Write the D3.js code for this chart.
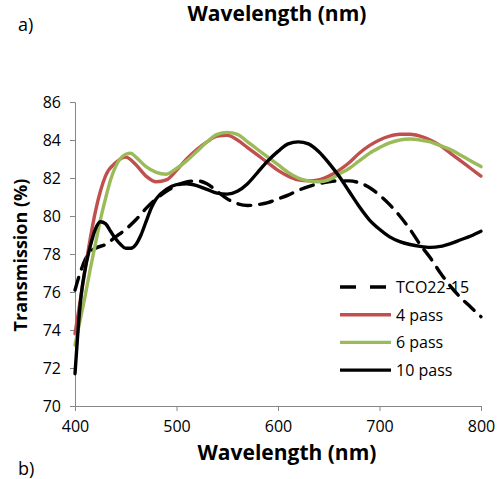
<!DOCTYPE html>
<html><head><meta charset="utf-8">
<script src="https://cdn.jsdelivr.net/npm/d3@7"></script>
<style>body{margin:0;background:#fff}svg{display:block}text{font-family:"Open Sans",sans-serif}</style>
</head><body><svg id="c" width="497" height="479"></svg>
<script>
const xTicks=[400,500,600,700,800];
const yTicks=[70,72,74,76,78,80,82,84,86];
const seriesNames=["TCO22-15","4 pass","6 pass","10 pass"];
const wlTCO=[400,405,410,415,420,430,440,450,460,470,480,490,500,510,520,530,540,550,560,570,580,590,600,610,620,630,640,650,660,670,680,690,700,710,720,730,740,750,760,770,780,790,800];
const tTCO=[76.1,77.0,77.7,78.1,78.3,78.5,78.9,79.3,79.8,80.4,80.9,81.3,81.6,81.8,81.85,81.7,81.3,80.9,80.65,80.55,80.6,80.7,80.9,81.1,81.35,81.55,81.7,81.8,81.85,81.85,81.75,81.5,81.1,80.6,80.0,79.3,78.5,77.8,77.0,76.3,75.7,75.2,74.7];
const wl4=[400,405,410,415,420,425,430,440,450,460,470,480,490,500,510,520,530,540,550,560,570,580,590,600,610,620,630,640,650,660,670,680,690,700,710,720,730,740,750,760,770,780,790,800];
const t4=[73.8,75.5,77.2,78.8,80.2,81.3,82.1,82.8,83.1,82.7,82.1,81.8,81.9,82.4,83.0,83.5,83.9,84.2,84.25,84.0,83.6,83.2,82.8,82.4,82.1,81.9,81.85,81.9,82.1,82.4,82.8,83.3,83.7,84.0,84.2,84.3,84.3,84.2,84.0,83.7,83.3,82.9,82.5,82.1];
const wl6=[400,405,410,415,420,425,430,435,440,450,455,460,470,480,490,500,510,520,530,540,550,560,570,580,590,600,610,620,630,640,650,660,670,680,690,700,710,720,730,740,750,760,770,780,790,800];
const t6=[73.2,74.5,75.8,77.2,78.5,79.8,80.9,81.9,82.6,83.25,83.3,83.1,82.6,82.3,82.2,82.5,82.9,83.4,83.9,84.3,84.4,84.3,83.9,83.5,83.1,82.7,82.3,82.0,81.85,81.8,81.9,82.2,82.5,82.9,83.3,83.6,83.85,84.0,84.05,84.0,83.9,83.7,83.5,83.2,82.9,82.6];
const wl10=[400,403,406,410,415,420,425,430,435,440,445,450,455,460,465,470,475,480,490,500,510,520,530,540,550,560,570,580,590,600,610,620,630,640,650,660,670,680,690,700,710,720,730,740,750,760,770,780,790,800];
const t10=[71.7,74.0,75.8,77.2,78.4,79.3,79.7,79.6,79.2,78.8,78.5,78.3,78.3,78.5,79.0,79.7,80.4,80.9,81.4,81.65,81.7,81.6,81.4,81.2,81.15,81.3,81.7,82.3,82.9,83.4,83.8,83.9,83.8,83.4,82.8,82.1,81.3,80.5,79.8,79.3,78.9,78.65,78.5,78.4,78.35,78.4,78.55,78.75,78.95,79.2];

const svg=d3.select("#c");
const m={l:75,r:16,t:102,b:73};
const W=497,H=479;
const x=d3.scaleLinear().domain([400,800]).range([m.l,W-m.r]);
const y=d3.scaleLinear().domain([70,86]).range([H-m.b,m.t]);
const axisCol="#868686";

const gx=svg.append("g").attr("transform",`translate(0,${H-m.b})`)
 .call(d3.axisBottom(x).tickValues(xTicks).tickSize(5).tickPadding(10));
const gy=svg.append("g").attr("transform",`translate(${m.l},0)`)
 .call(d3.axisLeft(y).tickValues(yTicks).tickSize(5).tickPadding(9));
[gx,gy].forEach(g=>{g.select(".domain").attr("stroke",axisCol);g.selectAll(".tick line").attr("stroke",axisCol);
 g.selectAll(".tick text").attr("fill","#000").style("font-size","16px").style("font-family","'Open Sans',sans-serif");});

svg.append("text").attr("x",277).attr("y",21).attr("text-anchor","middle").style("font-weight","bold").style("font-size","21px").text("Wavelength (nm)");
svg.append("text").attr("x",18).attr("y",31).style("font-size","18px").text("a)");
svg.append("text").attr("x",287).attr("y",460).attr("text-anchor","middle").style("font-weight","bold").style("font-size","21px").text("Wavelength (nm)");
svg.append("text").attr("x",18).attr("y",475).style("font-size","18px").text("b)");
svg.append("text").attr("transform","translate(27,255) rotate(-90)").attr("text-anchor","middle").style("font-weight","bold").style("font-size","18px").text("Transmission  (%)");

const series=[
 {n:seriesNames[0],w:wlTCO,t:tTCO,c:"#000",sw:3.4,dash:"13,9"},
 {n:seriesNames[1],w:wl4,t:t4,c:"#C0504D",sw:3.4,dash:null},
 {n:seriesNames[2],w:wl6,t:t6,c:"#9BBB59",sw:3.4,dash:null},
 {n:seriesNames[3],w:wl10,t:t10,c:"#000",sw:3.4,dash:null}
];
const lg=svg.append("g");
series.forEach((s,i)=>{
 const yy=287+i*27.7;
 lg.append("line").attr("x1",340).attr("x2",391).attr("y1",yy).attr("y2",yy).attr("stroke",s.c).attr("stroke-width",s.sw)
  .attr("stroke-dasharray",s.dash?"16,14":null);
 lg.append("text").attr("x",396).attr("y",yy+6).style("font-size","16px").text(s.n);
});
const line=d3.line().curve(d3.curveMonotoneX);
series.forEach(s=>{
 svg.append("path").attr("d",line(s.w.map((w,i)=>[x(w),y(s.t[i])])))
  .attr("fill","none").attr("stroke",s.c).attr("stroke-width",s.sw).attr("stroke-dasharray",s.dash)
  .attr("stroke-linejoin","round").attr("stroke-linecap","round");
});
</script></body></html>
